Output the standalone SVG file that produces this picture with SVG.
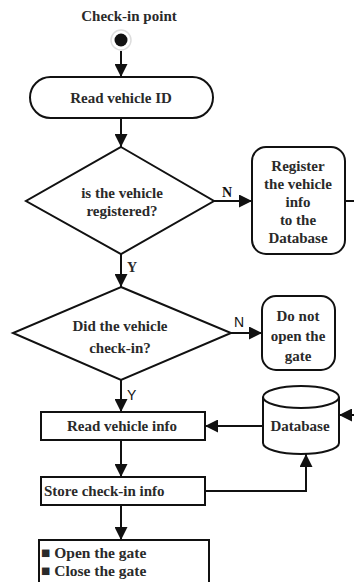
<svg xmlns="http://www.w3.org/2000/svg" width="354" height="582" viewBox="0 0 354 582">
<style>
.s{fill:#fff;stroke:#111;stroke-width:2}
.t{font-family:"Liberation Serif","Times New Roman",serif;font-weight:bold;font-size:15px;fill:#2a2a2a;text-anchor:middle}
.l{fill:none;stroke:#111;stroke-width:2}
.a{font-family:"Liberation Sans",Arial,sans-serif;font-size:14px;fill:#111}
</style>
<defs>
<marker id="ar" viewBox="0 0 13 13" refX="13" refY="6.5" markerWidth="13" markerHeight="13" markerUnits="userSpaceOnUse" orient="auto">
<path d="M0,0 L13,6.5 L0,13 Z" fill="#111"/>
</marker>
</defs>
<rect width="354" height="582" fill="#fff"/>
<g id="start">
<text class="t" x="129" y="21">Check-in point</text>
<circle cx="121" cy="40" r="10" fill="#fff" stroke="#ddd" stroke-width="1.5"/>
<circle cx="121" cy="40" r="6.5" fill="#111"/>
</g>
<g id="connectors">
<path class="l" d="M121,51 V77" marker-end="url(#ar)"/>
<path class="l" d="M121,118 V147" marker-end="url(#ar)"/>
<path class="l" d="M214,201 H252" marker-end="url(#ar)"/>
<path class="l" d="M345,201 H362"/>
<path class="l" d="M121,254 V287" marker-end="url(#ar)"/>
<path class="l" d="M231,333 H262" marker-end="url(#ar)"/>
<path class="l" d="M121,380 V412" marker-end="url(#ar)"/>
<path class="l" d="M263,426 H205" marker-end="url(#ar)"/>
<path class="l" d="M362,415 H339" marker-end="url(#ar)"/>
<path class="l" d="M121,440 V477" marker-end="url(#ar)"/>
<path class="l" d="M205,491 H306 V454" marker-end="url(#ar)"/>
<path class="l" d="M121,505 V540" marker-end="url(#ar)"/>
<text class="a" x="222" y="197" style="font-family:'Liberation Serif',serif;font-weight:bold;font-size:14px">N</text>
<text class="t" x="132" y="272" style="font-size:14px">Y</text>
<text class="a" x="234" y="327">N</text>
<text class="a" x="127" y="400">Y</text>
</g>
<g id="read-id">
<rect class="s" x="30" y="77" width="183" height="41" rx="20.5"/>
<text class="t" x="121" y="103">Read vehicle ID</text>
</g>
<g id="registered">
<path class="s" d="M121,147 L214,201 L121,254 L26,201 Z"/>
<text class="t" x="122" y="198">is the vehicle</text>
<text class="t" x="122" y="216">registered?</text>
</g>
<g id="register">
<rect class="s" x="252" y="147" width="93" height="107" rx="14"/>
<text class="t" x="298" y="171">Register</text>
<text class="t" x="298" y="189">the vehicle</text>
<text class="t" x="298" y="207">info</text>
<text class="t" x="298" y="225">to the</text>
<text class="t" x="298" y="243">Database</text>
</g>
<g id="checked-in">
<path class="s" d="M121,287 L231,333 L121,380 L13,333 Z"/>
<text class="t" x="120" y="331">Did the vehicle</text>
<text class="t" x="120" y="353">check-in?</text>
</g>
<g id="not-open">
<rect class="s" x="262" y="296" width="73" height="74" rx="14"/>
<text class="t" x="298" y="321">Do not</text>
<text class="t" x="298" y="341">open the</text>
<text class="t" x="298" y="361">gate</text>
</g>
<g id="read-info">
<rect class="s" x="41" y="412" width="164" height="28"/>
<text class="t" x="122" y="431">Read vehicle info</text>
</g>
<g id="database">
<path class="s" d="M263,397 V443 A38,11 0 0 0 339,443 V397"/>
<ellipse class="s" cx="301" cy="397" rx="38" ry="11"/>
<text class="t" x="300" y="431">Database</text>
</g>
<g id="store">
<rect class="s" x="41" y="477" width="164" height="28"/>
<text class="t" x="44" y="496" style="text-anchor:start">Store check-in info</text>
</g>
<g id="gate">
<rect class="s" x="39" y="540" width="170" height="45"/>
<text class="t" x="41" y="558" style="text-anchor:start;font-size:15.5px">■ Open the gate</text>
<text class="t" x="41" y="576" style="text-anchor:start;font-size:15.5px">■ Close the gate</text>
</g>
</svg>
